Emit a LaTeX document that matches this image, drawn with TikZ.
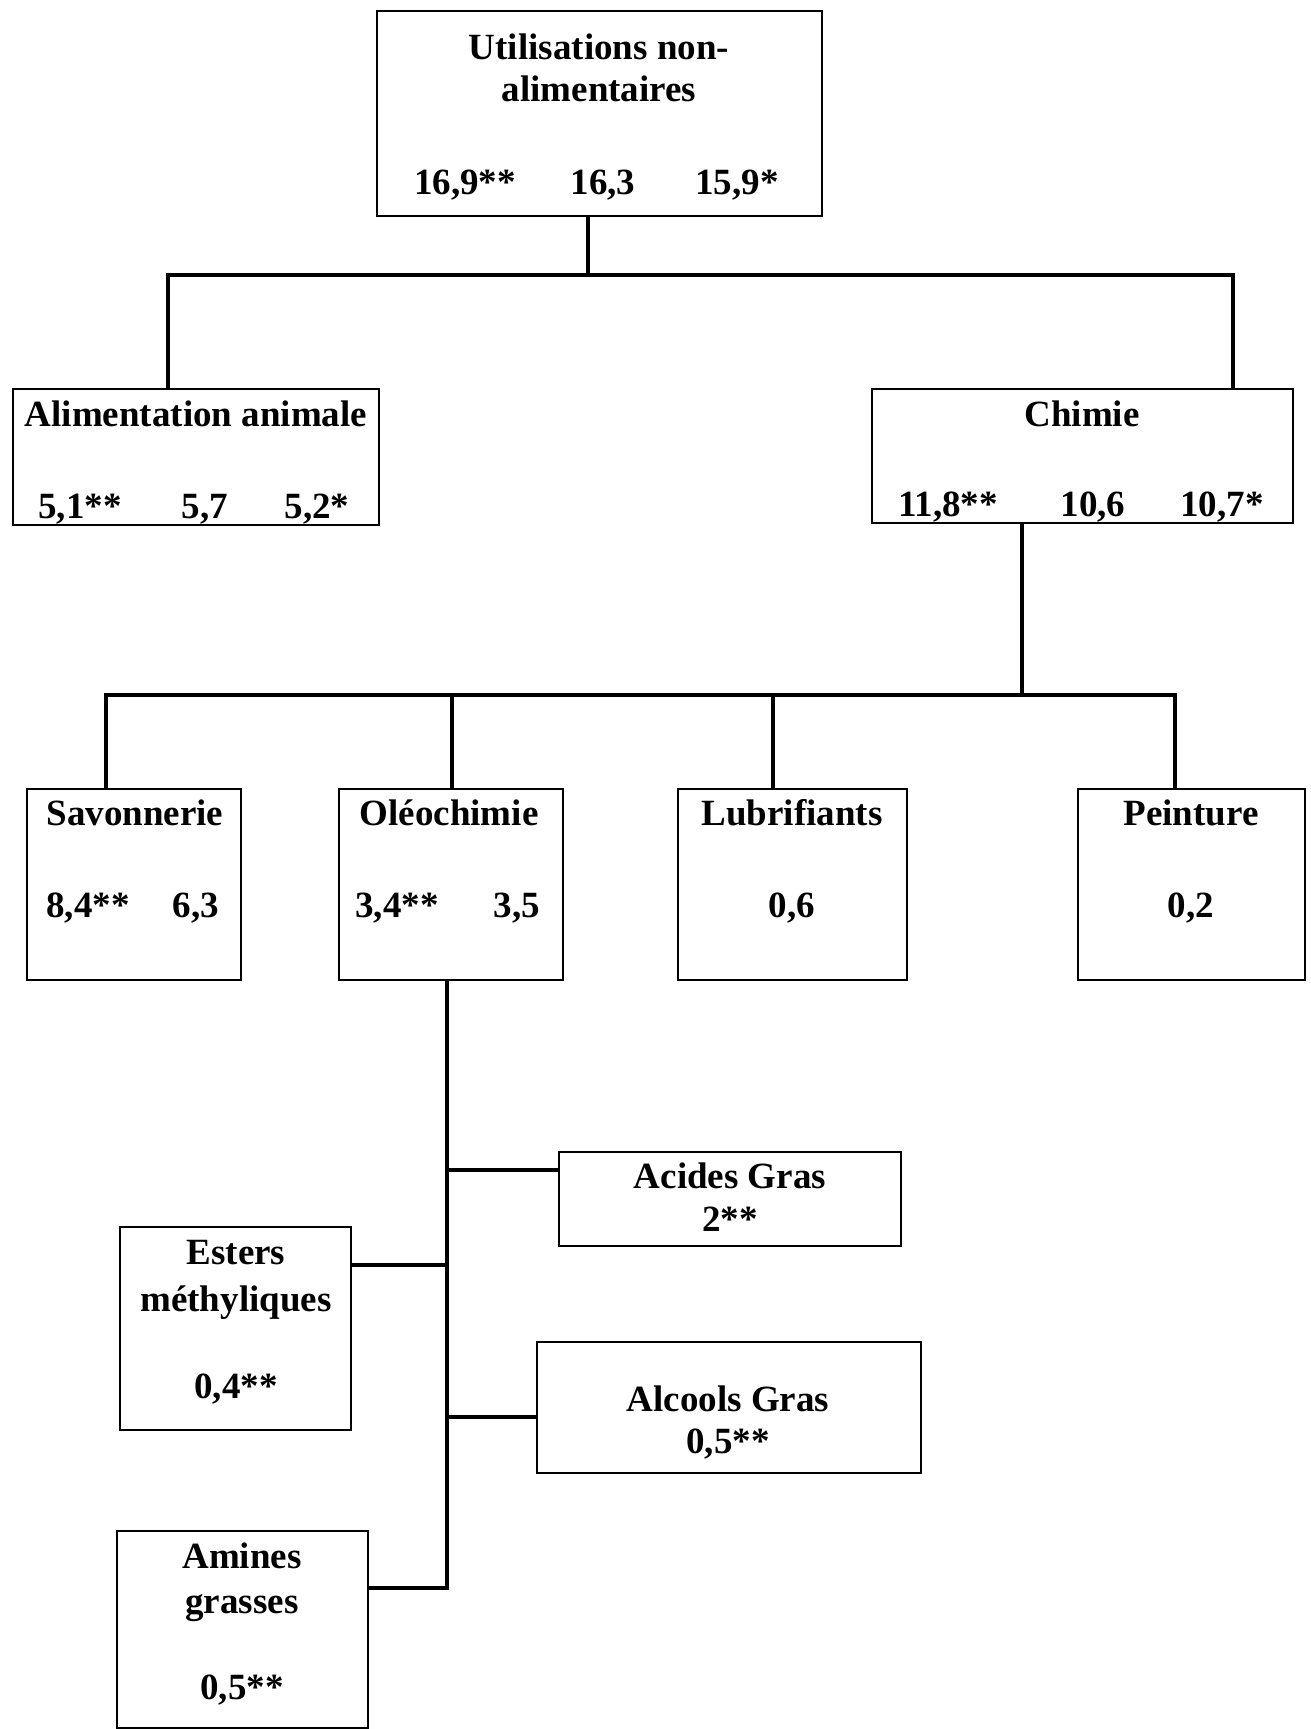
\documentclass[tikz,border=0pt]{standalone}
\usepackage{fontspec}
\setmainfont{Liberation Serif}
\begin{document}
\begin{tikzpicture}[x=1pt,y=-1pt,
  box/.style={draw, line width=1.8pt, inner sep=0pt, outer sep=0pt},
  lbl/.style={font=\fontsize{37}{40}\selectfont\bfseries, inner sep=0pt, anchor=base},
  conn/.style={line width=4.2pt, line join=miter}]
\useasboundingbox (0,0) rectangle (1311,1729);
\fill[white] (0,0) rectangle (1311,1729);
% boxes
\node[box, minimum width=445pt, minimum height=205pt] (top) at (599.5,113.5) {};
\node[box, minimum width=366pt, minimum height=136pt] (alim) at (196,457) {};
\node[box, minimum width=421pt, minimum height=134pt] (chim) at (1082.5,456) {};
\node[box, minimum width=214pt, minimum height=191pt] (savon) at (134,884.5) {};
\node[box, minimum width=224pt, minimum height=191pt] (oleo) at (451,884.5) {};
\node[box, minimum width=229pt, minimum height=191pt] (lubri) at (792.5,884.5) {};
\node[box, minimum width=227pt, minimum height=191pt] (peint) at (1191.5,884.5) {};
\node[box, minimum width=342pt, minimum height=94pt] (acid) at (730,1199) {};
\node[box, minimum width=231pt, minimum height=203pt] (est) at (235.5,1328.5) {};
\node[box, minimum width=384pt, minimum height=131pt] (alc) at (729,1407.5) {};
\node[box, minimum width=251pt, minimum height=197pt] (amin) at (242.5,1629.5) {};
% texts (base positions)
\node[lbl] (topA) at (599,59) {Utilisations non-};
\node[lbl] (topB) at (599,101) {alimentaires};
\node[lbl] (topN1) at (465,194) {16,9**};
\node[lbl] (topN2) at (603,194) {16,3};
\node[lbl] (topN3) at (737,194) {15,9*};
\node[lbl] (alimA) at (196,426) {Alimentation animale};
\node[lbl] (alimN1) at (80,518) {5,1**};
\node[lbl] (alimN2) at (205,518) {5,7};
\node[lbl] (alimN3) at (317,518) {5,2*};
\node[lbl] (chimA) at (1082,426) {Chimie};
\node[lbl] (chimN1) at (948,516) {11,8**};
\node[lbl] (chimN2) at (1093,516) {10,6};
\node[lbl] (chimN3) at (1222,516) {10,7*};
\node[lbl] (savonA) at (135,825) {Savonnerie};
\node[lbl] (savonN1) at (88,917) {8,4**};
\node[lbl] (savonN2) at (196,917) {6,3};
\node[lbl] (oleoA) at (449,825) {Oléochimie};
\node[lbl] (oleoN1) at (397,917) {3,4**};
\node[lbl] (oleoN2) at (517,917) {3,5};
\node[lbl] (lubriA) at (792,825) {Lubrifiants};
\node[lbl] (lubriN) at (792,917) {0,6};
\node[lbl] (peintA) at (1191,825) {Peinture};
\node[lbl] (peintN) at (1191,917) {0,2};
\node[lbl] (acidA) at (730,1188) {Acides Gras};
\node[lbl] (acidN) at (730,1231) {2**};
\node[lbl] (estA) at (236,1264) {Esters};
\node[lbl] (estB) at (236,1311) {méthyliques};
\node[lbl] (estN) at (236,1398) {0,4**};
\node[lbl] (alcA) at (728,1411) {Alcools Gras};
\node[lbl] (alcN) at (728,1453) {0,5**};
\node[lbl] (aminA) at (242,1568) {Amines};
\node[lbl] (aminB) at (242,1613) {grasses};
\node[lbl] (aminN) at (242,1699) {0,5**};
% junction coordinates
\coordinate (j0) at (588,275);
\coordinate (jL) at (168,275);
\coordinate (jR) at (1233,275);
\coordinate (j1) at (1022,695);
\coordinate (jS) at (106,695);
\coordinate (jO) at (452,695);
\coordinate (jLu) at (773,695);
\coordinate (jP) at (1175,695);
\coordinate (bA) at (447,1170);
\coordinate (bE) at (447,1265);
\coordinate (bAl) at (447,1417);
\coordinate (bAm) at (447,1588);
% connectors
\draw[conn] (top.south -| j0) -- (j0);
\draw[conn] (alim.north -| jL) -- (jL) -- (jR) -- (chim.north -| jR);
\draw[conn] (chim.south -| j1) -- (j1);
\draw[conn] (savon.north -| jS) -- (jS) -- (jP) -- (peint.north -| jP);
\draw[conn] (jO) -- (oleo.north -| jO);
\draw[conn] (jLu) -- (lubri.north -| jLu);
\draw[conn] (oleo.south -| bAm) -- (bAm) -- (amin.east |- bAm);
\draw[conn] (bA) -- (acid.west |- bA);
\draw[conn] (bE) -- (est.east |- bE);
\draw[conn] (bAl) -- (alc.west |- bAl);
\end{tikzpicture}
\end{document}
